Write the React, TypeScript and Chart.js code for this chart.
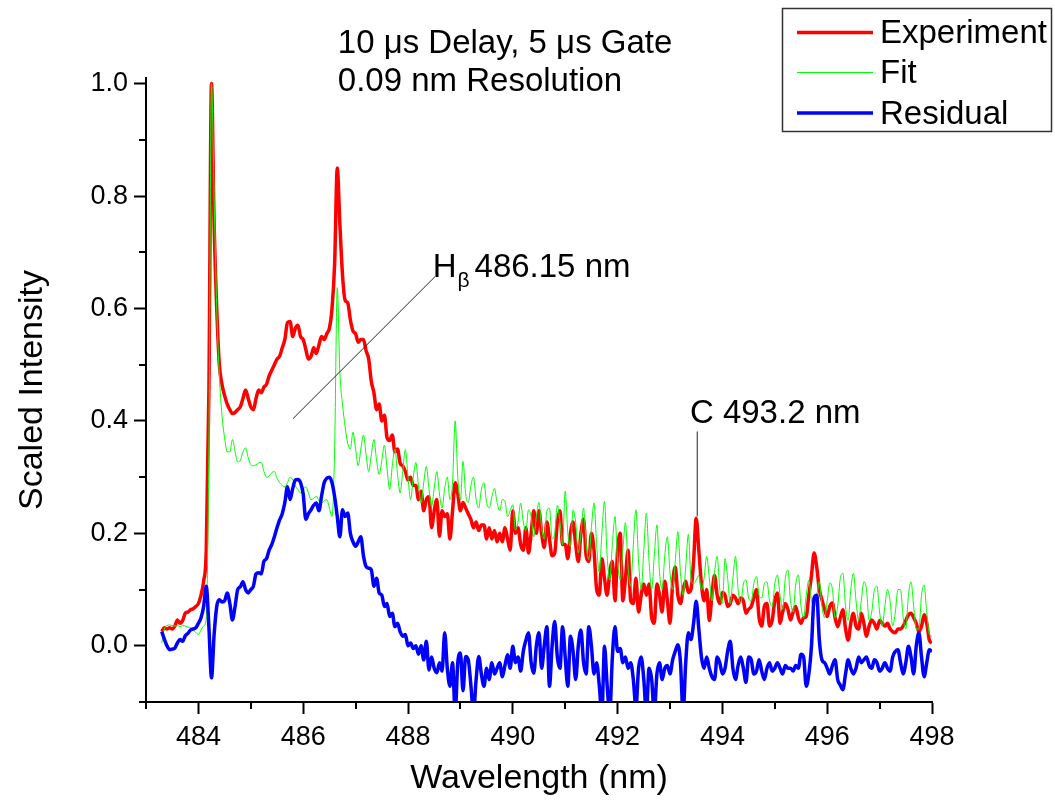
import React, { useEffect, useRef } from 'react';
import { Chart, registerables } from 'chart.js';

Chart.register(...registerables);

// ---------- data ----------
const WAVELENGTH_START = 483.3; // nm, first sample
const WAVELENGTH_STEP = 0.05; // nm between samples

const EXPERIMENT = [
  0.025, 0.032, 0.030, 0.032, 0.030, 0.035, 0.046, 0.040, 0.045, 0.058, 0.060, 0.064, 0.066, 0.070, 0.075, 0.090, 0.115, 0.170, 0.450, 1.000,
  0.75, 0.60, 0.50, 0.465, 0.445, 0.43, 0.42, 0.413, 0.415, 0.42, 0.425, 0.44, 0.455, 0.44, 0.425, 0.42, 0.44, 0.455, 0.45, 0.46,
  0.465, 0.48, 0.49, 0.50, 0.51, 0.515, 0.53, 0.545, 0.575, 0.577, 0.55, 0.565, 0.57, 0.55, 0.545, 0.527, 0.51, 0.515, 0.53, 0.52,
  0.535, 0.55, 0.545, 0.555, 0.565, 0.60, 0.68, 0.85, 0.75, 0.66, 0.615, 0.61, 0.58, 0.56, 0.555, 0.54, 0.545, 0.545, 0.525, 0.51,
  0.47, 0.45, 0.42, 0.43, 0.40, 0.41, 0.37, 0.365, 0.375, 0.345, 0.35, 0.325, 0.32, 0.31, 0.295, 0.30, 0.285, 0.285, 0.26, 0.275,
  0.24, 0.26, 0.265, 0.21, 0.24, 0.26, 0.195, 0.24, 0.23, 0.235, 0.19, 0.24, 0.29, 0.27, 0.24, 0.255, 0.245, 0.235, 0.225, 0.21,
  0.22, 0.205, 0.215, 0.215, 0.19, 0.21, 0.19, 0.205, 0.185, 0.20, 0.185, 0.21, 0.19, 0.17, 0.24, 0.20, 0.21, 0.18, 0.17, 0.21,
  0.165, 0.20, 0.24, 0.20, 0.24, 0.20, 0.175, 0.22, 0.19, 0.16, 0.165, 0.22, 0.24, 0.18, 0.18, 0.155, 0.20, 0.22, 0.18, 0.15,
  0.20, 0.225, 0.16, 0.15, 0.20, 0.17, 0.10, 0.09, 0.155, 0.12, 0.09, 0.13, 0.15, 0.08, 0.17, 0.20, 0.08, 0.12, 0.17, 0.08,
  0.075, 0.12, 0.06, 0.09, 0.11, 0.09, 0.11, 0.05, 0.04, 0.11, 0.09, 0.06, 0.115, 0.08, 0.04, 0.11, 0.14, 0.09, 0.075, 0.10,
  0.115, 0.095, 0.10, 0.15, 0.227, 0.17, 0.11, 0.08, 0.10, 0.045, 0.09, 0.125, 0.09, 0.075, 0.095, 0.09, 0.07, 0.075, 0.09, 0.085,
  0.075, 0.085, 0.08, 0.058, 0.065, 0.07, 0.085, 0.10, 0.05, 0.035, 0.07, 0.075, 0.035, 0.045, 0.08, 0.094, 0.04, 0.06, 0.075, 0.065,
  0.046, 0.06, 0.07, 0.05, 0.04, 0.05, 0.052, 0.09, 0.125, 0.165, 0.14, 0.10, 0.082, 0.065, 0.052, 0.07, 0.076, 0.05, 0.034, 0.05,
  0.064, 0.03, 0.01, 0.04, 0.058, 0.035, 0.03, 0.058, 0.04, 0.017, 0.035, 0.046, 0.04, 0.03, 0.045, 0.04, 0.035, 0.04, 0.03, 0.025,
  0.023, 0.03, 0.03, 0.035, 0.045, 0.055, 0.058, 0.05, 0.04, 0.025, 0.035, 0.055, 0.04, 0.01, 0.005,
];

const FIT = [
  0.005, 0.03, 0.036, 0.037, 0.036, 0.035, 0.036, 0.034, 0.036, 0.035, 0.033, 0.032, 0.028, 0.024, 0.02, 0.028, 0.035, 0.05, 0.35, 1.0,
  0.80, 0.60, 0.48, 0.41, 0.37, 0.345, 0.345, 0.367, 0.345, 0.327, 0.33, 0.345, 0.352, 0.335, 0.322, 0.32, 0.322, 0.325, 0.326, 0.31,
  0.30, 0.302, 0.308, 0.31, 0.298, 0.29, 0.285, 0.283, 0.29, 0.30, 0.295, 0.284, 0.278, 0.272, 0.278, 0.283, 0.272, 0.26, 0.262, 0.266,
  0.258, 0.254, 0.258, 0.26, 0.245, 0.23, 0.35, 0.637, 0.486, 0.43, 0.39, 0.36, 0.35, 0.38, 0.35, 0.32, 0.35, 0.375, 0.34, 0.31,
  0.34, 0.367, 0.33, 0.305, 0.33, 0.357, 0.315, 0.278, 0.32, 0.35, 0.305, 0.272, 0.31, 0.349, 0.30, 0.26, 0.30, 0.326, 0.285, 0.254,
  0.29, 0.319, 0.28, 0.248, 0.28, 0.31, 0.27, 0.245, 0.28, 0.30, 0.26, 0.29, 0.40, 0.30, 0.26, 0.328, 0.27, 0.255, 0.285, 0.30,
  0.26, 0.245, 0.278, 0.29, 0.255, 0.245, 0.265, 0.28, 0.255, 0.24, 0.26, 0.257, 0.23, 0.24, 0.251, 0.206, 0.22, 0.254, 0.22, 0.205,
  0.242, 0.23, 0.194, 0.23, 0.255, 0.21, 0.19, 0.24, 0.245, 0.19, 0.20, 0.25, 0.22, 0.18, 0.275, 0.20, 0.177, 0.242, 0.22, 0.165,
  0.20, 0.245, 0.18, 0.153, 0.21, 0.254, 0.18, 0.13, 0.20, 0.257, 0.16, 0.117, 0.18, 0.23, 0.15, 0.117, 0.17, 0.219, 0.14, 0.106,
  0.18, 0.242, 0.15, 0.10, 0.17, 0.236, 0.15, 0.10, 0.16, 0.215, 0.13, 0.10, 0.16, 0.194, 0.13, 0.10, 0.15, 0.203, 0.13, 0.09,
  0.14, 0.198, 0.12, 0.11, 0.117, 0.125, 0.10, 0.12, 0.159, 0.12, 0.08, 0.13, 0.159, 0.10, 0.075, 0.155, 0.12, 0.075, 0.12, 0.159,
  0.10, 0.075, 0.11, 0.117, 0.085, 0.08, 0.11, 0.123, 0.09, 0.085, 0.11, 0.114, 0.08, 0.07, 0.11, 0.126, 0.09, 0.065, 0.12, 0.135,
  0.08, 0.06, 0.11, 0.126, 0.07, 0.05, 0.09, 0.117, 0.08, 0.07, 0.09, 0.114, 0.07, 0.05, 0.08, 0.112, 0.10, 0.05, 0.07, 0.12,
  0.129, 0.07, 0.045, 0.10, 0.129, 0.08, 0.045, 0.08, 0.114, 0.10, 0.045, 0.06, 0.10, 0.106, 0.06, 0.035, 0.07, 0.10, 0.08, 0.035,
  0.06, 0.10, 0.10, 0.05, 0.03, 0.09, 0.114, 0.07, 0.03, 0.03, 0.09, 0.108, 0.06, 0.02, 0.017,
];

const RESIDUAL = [
  0.025, 0.012, 0.0, -0.007, -0.006, -0.004, 0.005, 0.011, 0.008, 0.018, 0.022, 0.028, 0.03, 0.032, 0.04, 0.05, 0.07, 0.106, 0.034, -0.057,
  0.02, 0.07, 0.082, 0.078, 0.08, 0.094, 0.075, 0.046, 0.07, 0.1, 0.105, 0.114, 0.10, 0.094, 0.10, 0.106, 0.128, 0.13, 0.128, 0.15,
  0.155, 0.17, 0.18, 0.194, 0.21, 0.224, 0.235, 0.255, 0.283, 0.26, 0.28, 0.295, 0.296, 0.29, 0.27, 0.225, 0.235, 0.242, 0.25, 0.254,
  0.24, 0.266, 0.29, 0.298, 0.30, 0.29, 0.265, 0.23, 0.194, 0.242, 0.23, 0.236, 0.20, 0.185, 0.177, 0.185, 0.194, 0.16, 0.141, 0.138,
  0.135, 0.106, 0.12, 0.094, 0.09, 0.07, 0.075, 0.052, 0.058, 0.034, 0.04, 0.025, 0.017, 0.02, 0.0, 0.005, -0.005, 0.0, -0.015, 0.0,
  -0.025, 0.008, -0.043, -0.02, -0.04, -0.048, -0.03, -0.045, 0.023, -0.04, -0.072, -0.03, -0.12, -0.03, -0.013, -0.08, -0.019, -0.025, -0.07, -0.12,
  -0.06, -0.019, -0.05, -0.072, -0.04, -0.06, -0.03, -0.05, -0.04, -0.03, -0.055, -0.035, -0.016, -0.04, -0.001, -0.03, -0.02, -0.045, -0.01, 0.01,
  0.023, -0.03, -0.049, 0.0, 0.023, -0.04, 0.0, 0.034, -0.072, 0.0, 0.043, -0.02, -0.04, 0.034, -0.02, -0.072, 0.017, -0.01, -0.06, 0.0,
  0.028, -0.03, -0.05, 0.034, 0.0, -0.05, -0.03, -0.07, -0.12, -0.001, -0.07, -0.12, -0.02, 0.034, -0.01, -0.005, -0.03, -0.02, -0.04, -0.03,
  -0.06, -0.11, -0.04, -0.02, -0.06, -0.12, -0.04, -0.06, -0.12, -0.05, -0.03, -0.06, -0.04, -0.035, -0.05, -0.025, -0.01, 0.002, -0.03, -0.12,
  -0.03, 0.023, 0.011, 0.04, 0.079, 0.03, -0.02, -0.04, -0.02, -0.04, -0.055, -0.06, -0.02, -0.03, -0.05, -0.04, -0.01, 0.008, -0.04, -0.06,
  -0.035, -0.02, -0.04, -0.065, -0.02, -0.025, -0.05, -0.045, -0.025, -0.045, -0.06, -0.04, -0.03, -0.045, -0.04, -0.03, -0.04, -0.05, -0.035, -0.04,
  -0.04, -0.045, -0.035, -0.04, -0.015, -0.02, -0.072, -0.05, 0.0, 0.085, 0.09, 0.01, -0.025, -0.03, -0.04, -0.05, -0.035, -0.025, -0.06, -0.07,
  -0.078, -0.05, -0.025, -0.04, -0.05, -0.04, -0.02, -0.03, -0.025, -0.02, -0.035, -0.04, -0.025, -0.03, -0.045, -0.04, -0.03, -0.04, -0.045, -0.02,
  -0.01, -0.007, -0.03, -0.05, -0.03, -0.001, -0.02, -0.05, 0.0, 0.023, -0.02, -0.055, -0.03, -0.007, -0.01,
];

const SERIES_LABELS = ['Experiment', 'Fit', 'Residual'];
const X_MINOR_TICKS = [483, 485, 487, 489, 491, 493, 495, 497];
const Y_MINOR_TICKS = [-0.1, 0.1, 0.3, 0.5, 0.7, 0.9];

const HEADER_LINES = ['10 \u03bcs Delay, 5 \u03bcs Gate', '0.09 nm Resolution'];
const HB_LABEL = ['H', '\u03b2', '486.15 nm'];
const C_LABEL = 'C 493.2 nm';

// annotation anchor points (data coordinates)
const HEADER_POS = [{ x: 486.66, y: 1.0546 }, { x: 486.66, y: 0.9863 }];
const HB_TEXT_POS = { x: 488.47, y: 0.6566 };
const HB_LINE = [{ x: 485.805, y: 0.404 }, { x: 488.515, y: 0.6566 }];
const C_TEXT_POS = { x: 493.38, y: 0.3963 };
const C_LINE = [{ x: 493.52, y: 0.3813 }, { x: 493.52, y: 0.2301 }];

// ---------- style ----------
const FONT = '"Liberation Sans", Arial, Helvetica, sans-serif';
const COLORS = ['#ff0000', '#00ff00', '#0000ff'];
const WIDTHS = [3.5, 1, 3.5];
const TEXT_SIZE = 33;

const toPoints = (arr: number[]) =>
  arr.map((y, i) => ({ x: +(WAVELENGTH_START + i * WAVELENGTH_STEP).toFixed(2), y }));

const decorPlugin = {
  id: 'decor',
  afterDraw(chart: any) {
    const { ctx, chartArea } = chart;
    const xs = chart.scales.x;
    const ys = chart.scales.y;
    ctx.save();
    // minor ticks
    ctx.strokeStyle = '#000';
    ctx.lineWidth = 2;
    X_MINOR_TICKS.forEach((v) => {
      const px = Math.round(xs.getPixelForValue(v));
      ctx.beginPath();
      ctx.moveTo(px, chartArea.bottom);
      ctx.lineTo(px, chartArea.bottom + 7);
      ctx.stroke();
    });
    Y_MINOR_TICKS.forEach((v) => {
      const py = Math.round(ys.getPixelForValue(v));
      ctx.beginPath();
      ctx.moveTo(chartArea.left - 7, py);
      ctx.lineTo(chartArea.left, py);
      ctx.stroke();
    });

    // annotation lines
    ctx.strokeStyle = '#222';
    ctx.lineWidth = 1;
    [HB_LINE, C_LINE].forEach((ln) => {
      ctx.beginPath();
      ctx.moveTo(xs.getPixelForValue(ln[0].x), ys.getPixelForValue(ln[0].y));
      ctx.lineTo(xs.getPixelForValue(ln[1].x), ys.getPixelForValue(ln[1].y));
      ctx.stroke();
    });

    // texts
    ctx.fillStyle = '#000';
    ctx.textBaseline = 'alphabetic';
    ctx.textAlign = 'left';
    ctx.font = `${TEXT_SIZE}px ${FONT}`;
    HEADER_LINES.forEach((t, i) => {
      ctx.fillText(t, xs.getPixelForValue(HEADER_POS[i].x), ys.getPixelForValue(HEADER_POS[i].y));
    });
    ctx.fillText(C_LABEL, xs.getPixelForValue(C_TEXT_POS.x), ys.getPixelForValue(C_TEXT_POS.y));
    let hx = xs.getPixelForValue(HB_TEXT_POS.x);
    const hy = ys.getPixelForValue(HB_TEXT_POS.y);
    ctx.fillText(HB_LABEL[0], hx, hy);
    hx += ctx.measureText(HB_LABEL[0]).width;
    ctx.font = `21px ${FONT}`;
    ctx.fillText(HB_LABEL[1], hx + 1, hy + 10);
    hx += ctx.measureText(HB_LABEL[1]).width + 6;
    ctx.font = `${TEXT_SIZE}px ${FONT}`;
    ctx.fillText(HB_LABEL[2], hx, hy);

    // legend
    const box = { x: 782, y: 8, w: 269, h: 123 };
    ctx.strokeStyle = '#333';
    ctx.lineWidth = 1.5;
    ctx.strokeRect(box.x + 0.5, box.y + 0.5, box.w, box.h);
    const rowsY = [32.5, 72.5, 113];
    chart.data.datasets.forEach((ds: any, i: number) => {
      ctx.strokeStyle = ds.borderColor;
      ctx.lineWidth = ds.borderWidth;
      ctx.beginPath();
      ctx.moveTo(797, rowsY[i]);
      ctx.lineTo(873, rowsY[i]);
      ctx.stroke();
      ctx.fillStyle = '#000';
      ctx.font = `${TEXT_SIZE}px ${FONT}`;
      ctx.fillText(ds.label, 880, rowsY[i] + 10.5);
    });
    ctx.restore();
  },
};

export default function App() {
  const ref = useRef<HTMLCanvasElement>(null);
  useEffect(() => {
    if (!ref.current) return;
    const series = [EXPERIMENT, FIT, RESIDUAL];
    const chart = new Chart(ref.current, {
      type: 'line',
      data: {
        datasets: series.map((arr, i) => ({
          label: SERIES_LABELS[i],
          data: toPoints(arr),
          borderColor: COLORS[i],
          backgroundColor: COLORS[i],
          borderWidth: WIDTHS[i],
          pointRadius: 0,
          fill: false,
          cubicInterpolationMode: 'monotone' as const,
          order: 3 - i,
          borderJoinStyle: 'round' as const,
        })),
      },
      options: {
        animation: false,
        responsive: false,
        devicePixelRatio: 1,
        parsing: false as any,
        layout: { padding: { left: 0, top: 78, right: 123, bottom: 0 } },
        plugins: { legend: { display: false }, tooltip: { enabled: false } },
        scales: {
          x: {
            type: 'linear',
            min: 483,
            max: 498,
            afterFit: (s: any) => {
              s.height = 102;
            },
            ticks: {
              stepSize: 2,
              includeBounds: false,
              autoSkip: false,
              maxRotation: 0,
              color: '#000',
              padding: 7,
              font: { family: FONT, size: 27 },
              callback: (v: any) => String(v),
            },
            grid: { drawOnChartArea: false, drawTicks: true, tickLength: 12, tickWidth: 2, tickColor: '#000' },
            border: { display: true, color: '#000', width: 2 },
            title: {
              display: true,
              text: 'Wavelength (nm)',
              color: '#000',
              font: { family: FONT, size: 34 },
              padding: { top: 0, bottom: 5 },
            },
          },
          y: {
            type: 'linear',
            min: -0.1,
            max: 1.01,
            afterFit: (s: any) => {
              s.width = 146;
            },
            ticks: {
              stepSize: 0.2,
              includeBounds: false,
              autoSkip: false,
              color: '#000',
              padding: 6,
              font: { family: FONT, size: 27 },
              callback: (v: any) => (Math.abs(Number(v)) < 1e-9 ? '0.0' : Number(v).toFixed(1)),
            },
            grid: { drawOnChartArea: false, drawTicks: true, tickLength: 12, tickWidth: 2, tickColor: '#000' },
            border: { display: true, color: '#000', width: 2 },
            title: {
              display: true,
              text: 'Scaled Intensity',
              color: '#000',
              font: { family: FONT, size: 34 },
              padding: { top: 12, bottom: 0 },
            },
          },
        },
      },
      plugins: [decorPlugin],
    });
    return () => chart.destroy();
  }, []);
  return (
    <div style={{ position: 'fixed', left: 0, top: 0, width: 1055, height: 804, background: '#fff' }}>
      <canvas ref={ref} width={1055} height={804} style={{ width: 1055, height: 804, display: 'block' }} />
    </div>
  );
}
